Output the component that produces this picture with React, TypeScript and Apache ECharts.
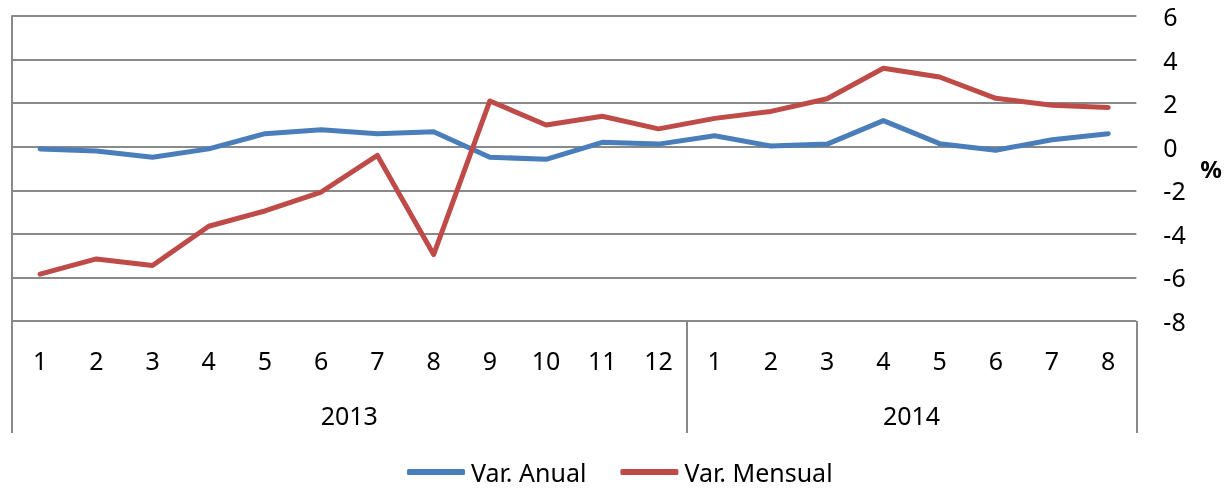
import React, { useEffect, useRef } from "react";
import * as echarts from "echarts";

const months = ["1", "2", "3", "4", "5", "6", "7", "8", "9", "10", "11", "12", "1", "2", "3", "4", "5", "6", "7", "8"];
const years = ["2013", "2014"];
const yearSpans = [12, 8];
const varAnual = [-0.1, -0.2, -0.48, -0.1, 0.6, 0.78, 0.6, 0.69, -0.48, -0.58, 0.2, 0.12, 0.5, 0.03, 0.12, 1.2, 0.14, -0.16, 0.32, 0.6];
const varMensual = [-5.85, -5.15, -5.45, -3.65, -2.95, -2.08, -0.4, -4.95, 2.1, 1.0, 1.4, 0.82, 1.3, 1.62, 2.2, 3.6, 3.2, 2.22, 1.9, 1.8];
const yTicks = { min: -8, max: 6, interval: 2 };

const FONT = "Noto Sans";
const GREY = "#898989";
const FS = 25;

export default function App() {
  const ref = useRef<HTMLDivElement>(null);
  useEffect(() => {
    if (!ref.current) return;
    const chart = echarts.init(ref.current, undefined, { renderer: "svg" });
    const bounds: number[] = [0];
    const mids: number[] = [];
    let acc = 0;
    yearSpans.forEach((s) => {
      mids.push(acc + s / 2);
      acc += s;
      bounds.push(acc);
    });
    chart.setOption({
      animation: false,
      textStyle: { fontFamily: FONT },
      grid: { left: 12, right: 87, top: 16, bottom: 168, containLabel: false },
      legend: {
        top: 459,
        left: 407,
        padding: 0,
        icon: "roundRect",
        itemWidth: 58,
        itemHeight: 6,
        itemGap: 34,
        textStyle: { fontFamily: FONT, fontSize: FS, lineHeight: 26, color: "#000", padding: [0, 0, 0, 1] },
        data: ["Var. Anual", "Var. Mensual"],
      },
      xAxis: [
        {
          type: "category",
          data: months,
          position: "bottom",
          boundaryGap: true,
          axisLine: { show: true, lineStyle: { color: GREY, width: 2 } },
          axisTick: { show: false },
          axisLabel: { fontFamily: FONT, fontSize: FS, color: "#000", margin: 26, interval: 0 },
          splitLine: { show: false },
        },
        {
          type: "value",
          position: "bottom",
          min: 0,
          max: acc,
          axisLine: { show: false },
          splitLine: { show: false },
          axisTick: {
            show: true,
            customValues: bounds,
            length: 112,
            lineStyle: { color: GREY, width: 2 },
          },
          axisLabel: {
            show: true,
            customValues: mids,
            margin: 81,
            fontFamily: FONT,
            fontSize: FS,
            color: "#000",
            formatter: (v: number) => {
              const i = mids.indexOf(v);
              return i >= 0 ? years[i] : "";
            },
          },
        },
      ],
      yAxis: {
        type: "value",
        position: "right",
        min: yTicks.min,
        max: yTicks.max,
        interval: yTicks.interval,
        name: "%",
        nameLocation: "middle",
        nameRotate: 0,
        nameGap: 64,
        nameTextStyle: { fontFamily: FONT, fontSize: 24, fontWeight: "bold", color: "#000", padding: [10, 0, 0, 0] },
        axisLine: { show: true, lineStyle: { color: GREY, width: 2 } },
        axisTick: { show: false },
        axisLabel: { fontFamily: FONT, fontSize: FS, color: "#000", margin: 27 },
        splitLine: { show: true, lineStyle: { color: GREY, width: 2 } },
      },
      series: [
        {
          name: "Var. Anual",
          type: "line",
          data: varAnual,
          xAxisIndex: 0,
          symbol: "none",
          lineStyle: { color: "#4A7EBB", width: 5, cap: "round", join: "round" },
          itemStyle: { color: "#4A7EBB" },
        },
        {
          name: "Var. Mensual",
          type: "line",
          data: varMensual,
          xAxisIndex: 0,
          symbol: "none",
          lineStyle: { color: "#BE4B48", width: 5, cap: "round", join: "round" },
          itemStyle: { color: "#BE4B48" },
        },
      ],
    });
    return () => chart.dispose();
  }, []);
  return <div ref={ref} style={{ position: "fixed", left: 0, top: 0, width: 1225, height: 489 }} />;
}
